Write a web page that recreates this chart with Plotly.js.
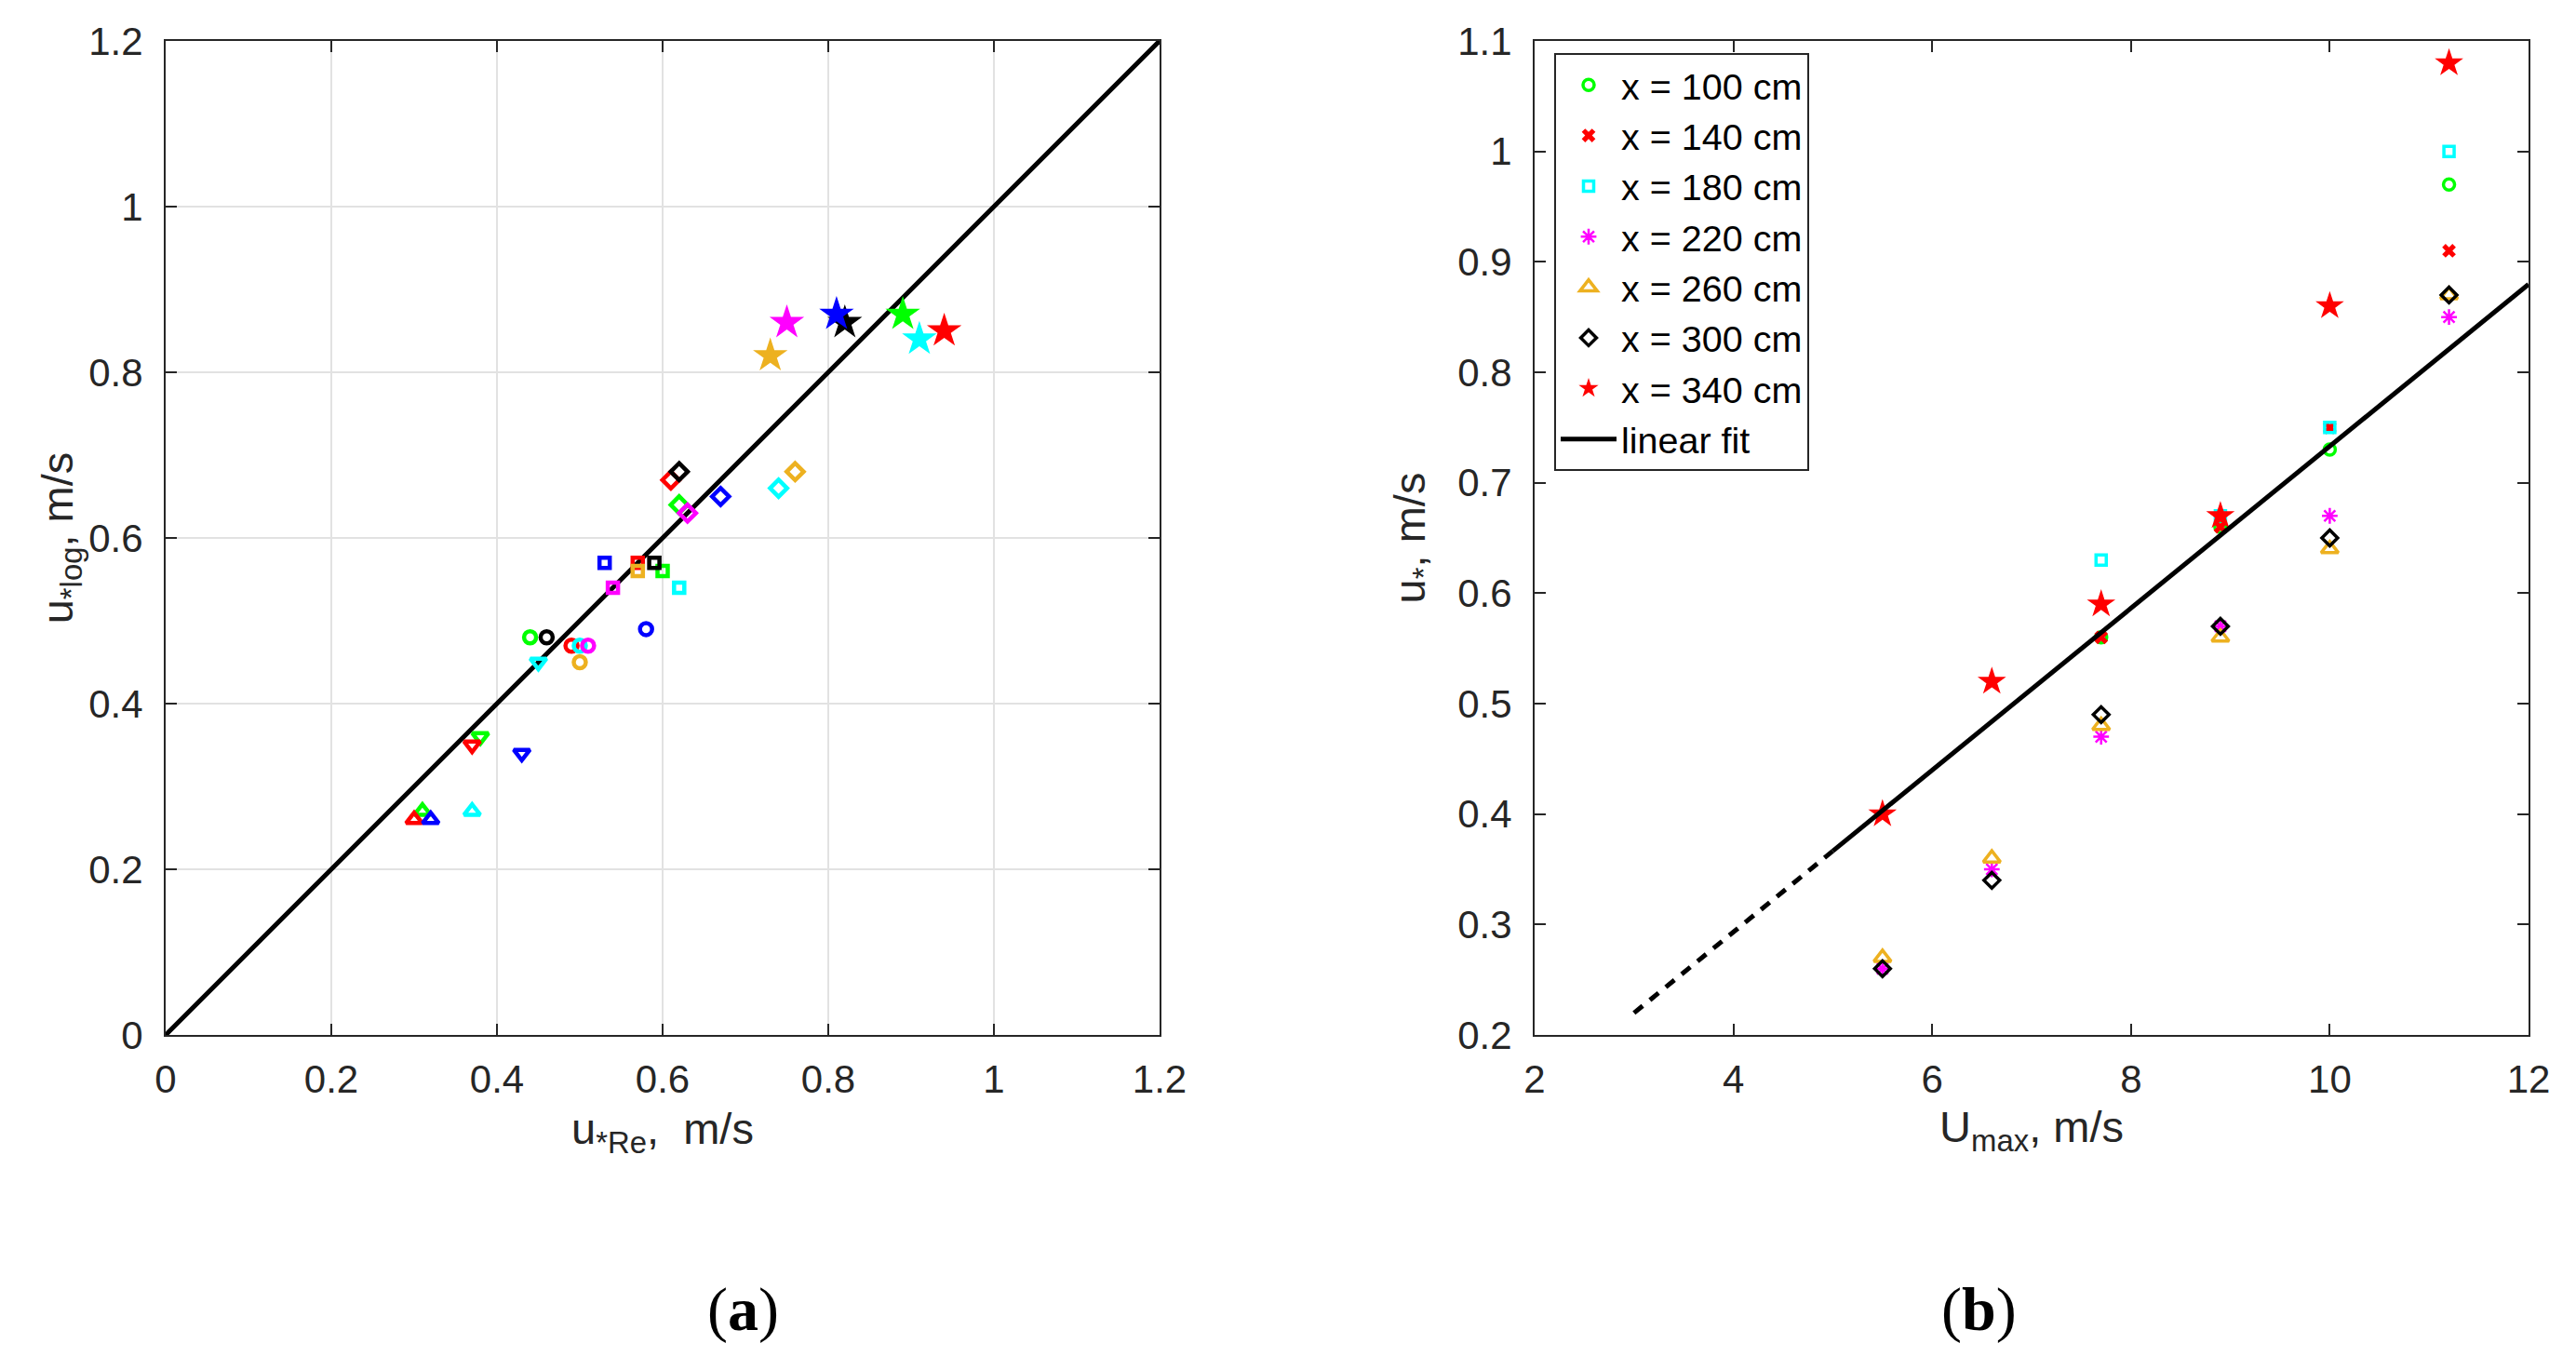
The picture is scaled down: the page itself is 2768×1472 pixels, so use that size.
<!DOCTYPE html>
<html>
<head>
<meta charset="utf-8">
<script src="https://cdn.plot.ly/plotly-3.0.1.min.js"></script>
<style>
  html, body { margin: 0; padding: 0; background: #fff; }
  #plot { width: 2768px; height: 1472px; }
</style>
</head>
<body>
<div id="plot"></div>
<script>
// ---- panel (a): u*log vs u*Re, one value per measurement set (marker shape) ----
// order of sets: triangle-up, triangle-down, circle, square, diamond, star
const setNames = ['up', 'down', 'circle', 'square', 'diamond', 'star']

const reGreen = [0.31, 0.38, 0.44, 0.60, 0.62, 0.89]
const logGreen = [0.27, 0.36, 0.48, 0.56, 0.64, 0.87]
const reRed = [0.30, 0.37, 0.49, 0.57, 0.61, 0.94]
const logRed = [0.26, 0.35, 0.47, 0.57, 0.67, 0.85]
const reCyan = [0.37, 0.45, 0.50, 0.62, 0.74, 0.91]
const logCyan = [0.27, 0.45, 0.47, 0.54, 0.66, 0.84]
const reMagenta = [null, null, 0.51, 0.54, 0.63, 0.75]
const logMagenta = [null, null, 0.47, 0.54, 0.63, 0.86]
const reOrange = [null, null, 0.50, 0.57, 0.76, 0.73]
const logOrange = [null, null, 0.45, 0.56, 0.68, 0.82]
const reBlack = [null, null, 0.46, 0.59, 0.62, 0.82]
const logBlack = [null, null, 0.48, 0.57, 0.68, 0.86]
const reBlue = [0.32, 0.43, 0.58, 0.53, 0.67, 0.81]
const logBlue = [0.26, 0.34, 0.49, 0.57, 0.65, 0.87]

const diagRange = [0, 1.2]

// ---- panel (b): u* vs Umax for each station ----
const uMax = [5.5, 6.6, 7.7, 8.9, 10, 11.2]
const us100 = [null, null, 0.56, 0.66, 0.73, 0.97]
const us140 = [null, null, 0.56, 0.66, 0.75, 0.91]
const us180 = [null, null, 0.63, 0.67, 0.75, 1.00]
const us220 = [0.26, 0.35, 0.47, 0.57, 0.67, 0.85]
const us260 = [0.27, 0.36, 0.48, 0.56, 0.64, 0.87]
const us300 = [0.26, 0.34, 0.49, 0.57, 0.65, 0.87]
const us340 = [0.40, 0.52, 0.59, 0.67, 0.86, 1.08]
const stationNames = ['x = 100 cm', 'x = 140 cm', 'x = 180 cm', 'x = 220 cm', 'x = 260 cm', 'x = 300 cm', 'x = 340 cm']

const fitSlope = 0.0733
const fitIntercept = 0
const fitDashedU = [3, 5]
const fitSolidU = [5, 12]

// ---- styles ----
const GREEN = '#00ff00', RED = '#ff0000', CYAN = '#00ffff', MAGENTA = '#ff00ff'
const ORANGE = '#edb120', BLACK = '#000000', BLUE = '#0000ff'
const AXIS = '#262626'
const FONT = '"Liberation Sans", Arial, Helvetica, sans-serif'
const SERIF = '"Liberation Serif", "DejaVu Serif", serif'

const setStyle = {
    up: { symbol: 'triangle-up-open', size: 15, lw: 4.5 },
    down: { symbol: 'triangle-down-open', size: 15, lw: 4.5 },
    circle: { symbol: 'circle-open', size: 13, lw: 4.5 },
    square: { symbol: 'square-open', size: 11, lw: 4.5 },
    diamond: { symbol: 'diamond-open', size: 14, lw: 4.5 },
    star: { symbol: 'star', size: 28, lw: 0 }
}

const leftSeries = [
    [reGreen, logGreen, GREEN],
    [reRed, logRed, RED],
    [reCyan, logCyan, CYAN],
    [reMagenta, logMagenta, MAGENTA],
    [reOrange, logOrange, ORANGE],
    [reBlack, logBlack, BLACK],
    [reBlue, logBlue, BLUE]
]

const data = []

data.push({
    x: diagRange, y: diagRange, xaxis: 'x', yaxis: 'y',
    mode: 'lines', line: { color: BLACK, width: 5 },
    showlegend: false, hoverinfo: 'skip'
})

setNames.forEach((name, i) => {
    const st = setStyle[name]
    leftSeries.forEach((s) => {
        if (s[0][i] === null) return
        data.push({
            x: [s[0][i]], y: [s[1][i]], xaxis: 'x', yaxis: 'y',
            mode: 'markers', showlegend: false,
            marker: {
                symbol: st.symbol, size: st.size, color: s[2],
                line: { color: s[2], width: st.lw }
            }
        })
    })
})

const rightSeries = [
    [us100, GREEN, 'circle-open', 12, 3.5],
    [us140, RED, 'x', 13, 0],
    [us180, CYAN, 'square-open', 11, 3.5],
    [us220, MAGENTA, 'asterisk-open', 14, 2.5],
    [us260, ORANGE, 'triangle-up-open', 16, 3.5],
    [us300, BLACK, 'diamond-open', 13, 3.5],
    [us340, RED, 'star', 23, 0]
]

rightSeries.forEach((s, k) => {
    data.push({
        x: uMax, y: s[0], xaxis: 'x2', yaxis: 'y2',
        mode: 'markers', name: stationNames[k],
        marker: { symbol: s[2], size: s[3], color: s[1], line: { color: s[1], width: s[4] } }
    })
})

function fitLine(u) {
    return u.map((v) => fitSlope * v + fitIntercept)
}

data.push({
    x: fitSolidU, y: fitLine(fitSolidU), xaxis: 'x2', yaxis: 'y2',
    mode: 'lines', name: 'linear fit', line: { color: BLACK, width: 5 }
})
data.push({
    x: fitDashedU, y: fitLine(fitDashedU), xaxis: 'x2', yaxis: 'y2',
    mode: 'lines', showlegend: false, line: { color: BLACK, width: 5, dash: '12px,10px' }
})

const W = 2768, H = 1472
const px = (v) => v / W
const py = (v) => 1 - v / H

function axisBase(extra) {
    return Object.assign({
        showline: true, linecolor: AXIS, linewidth: 2, mirror: 'ticks',
        ticks: 'inside', ticklen: 12, tickwidth: 2, tickcolor: AXIS,
        zeroline: false, fixedrange: true,
        tickfont: { family: FONT, size: 42, color: AXIS }
    }, extra)
}

const titleFont = { family: FONT, size: 47, color: AXIS }

const layout = {
    width: W, height: H, autosize: false,
    margin: { l: 0, r: 0, t: 0, b: 0 },
    paper_bgcolor: '#fff', plot_bgcolor: '#fff',
    font: { family: FONT, size: 42, color: AXIS },
    xaxis: axisBase({
        domain: [px(178), px(1246)], range: [0, 1.2], dtick: 0.2, anchor: 'y',
        showgrid: true, gridcolor: '#e2e2e2', gridwidth: 1.5, ticklabelstandoff: 10,
        title: { text: 'u<sub>*Re</sub>, &nbsp;m/s', font: titleFont, standoff: 14 }
    }),
    yaxis: axisBase({
        domain: [py(1112), py(44)], range: [0, 1.2], dtick: 0.2, anchor: 'x',
        showgrid: true, gridcolor: '#e2e2e2', gridwidth: 1.5, ticklabelstandoff: 14,
        title: { text: 'u<sub>*log</sub>, m/s', font: titleFont, standoff: 0 }
    }),
    xaxis2: axisBase({
        domain: [px(1649), px(2717)], range: [2, 12], dtick: 2, anchor: 'y2',
        showgrid: false, ticklabelstandoff: 10,
        title: { text: 'U<sub>max</sub>, m/s', font: titleFont, standoff: 12 }
    }),
    yaxis2: axisBase({
        domain: [py(1112), py(44)], range: [0.2, 1.1], dtick: 0.1, anchor: 'x2',
        showgrid: false, ticklabelstandoff: 14,
        title: { text: 'u<sub>*</sub>, m/s', font: titleFont, standoff: 20 }
    }),
    showlegend: true,
    legend: {
        x: px(1670), y: py(57), xanchor: 'left', yanchor: 'top',
        bgcolor: '#fff', bordercolor: AXIS, borderwidth: 2,
        font: { family: FONT, size: 39.5, color: '#000' },
        itemwidth: 60, tracegroupgap: 0
    },
    annotations: [
        { text: '(<b>a</b>)', x: px(798), y: py(1407), xref: 'paper', yref: 'paper',
          xanchor: 'center', yanchor: 'middle',
          showarrow: false, font: { family: SERIF, size: 66, color: '#000' } },
        { text: '(<b>b</b>)', x: px(2126), y: py(1407), xref: 'paper', yref: 'paper',
          xanchor: 'center', yanchor: 'middle',
          showarrow: false, font: { family: SERIF, size: 66, color: '#000' } }
    ]
}

Plotly.newPlot('plot', data, layout, { staticPlot: true, displayModeBar: false })
</script>
</body>
</html>
